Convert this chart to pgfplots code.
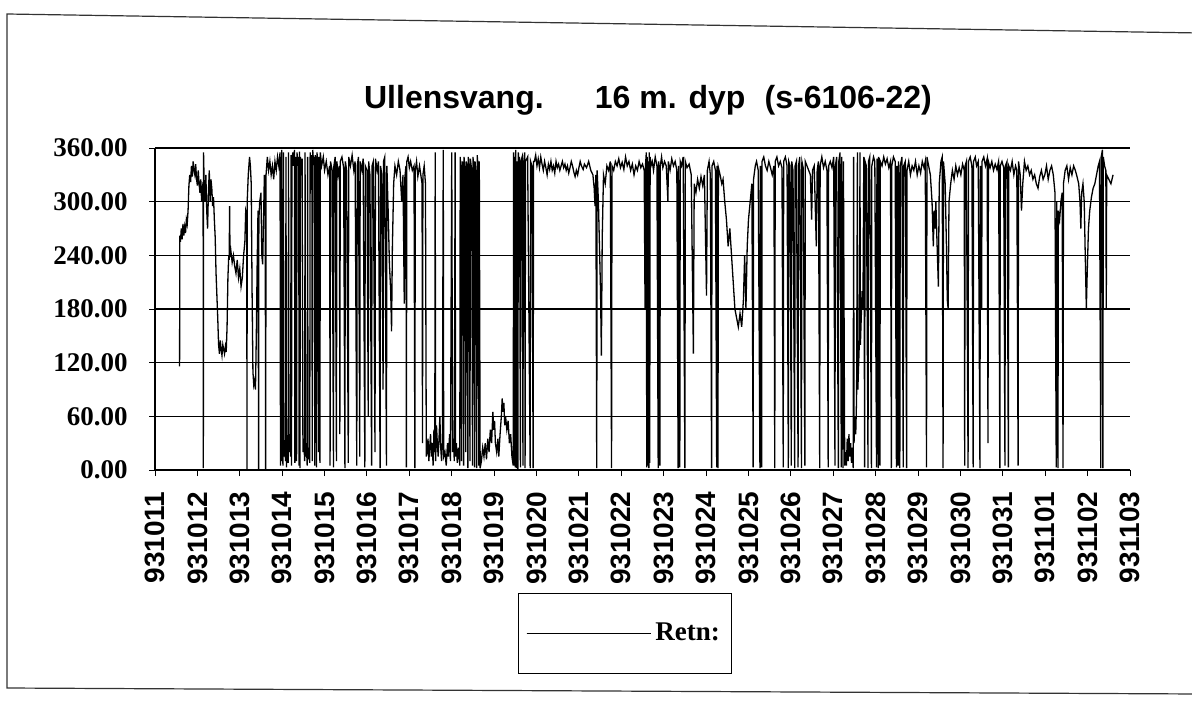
\documentclass[border=0pt]{standalone}
\usepackage{fontspec}
\setmainfont{Liberation Serif}
\newfontfamily\sansf{Liberation Sans}
\usepackage{pgfplots}
\pgfplotsset{compat=1.18}

% current direction, 16 m depth, one point per reading (x = days after 931011)
\begin{document}
\begin{tikzpicture}[x=1pt,y=1pt]
\useasboundingbox (0,0) rectangle (596,351.5);
% scanned page frame
\draw[line width=0.6pt,black!80] (600,335) -- (3.5,344.5) -- (3.5,7.5) -- (600,4.5);
\node[font=\sansf\fontsize{16}{16}\selectfont\bfseries] at (324,301.5)
  {Ullensvang.\hspace{1.6em}16 m. dyp\hspace{0.6em}(s-6106-22)};
\begin{axis}[
    at={(77.5pt,116.5pt)}, anchor=south west,
    scale only axis,
    width=487.5pt, height=161pt,
    xmin=0, xmax=23, ymin=0, ymax=360,
    axis x line*=bottom, axis y line*=left,
    axis line style={line width=0.6pt, -},
    ymajorgrids, major grid style={black, line width=0.6pt},
    ytick={0,60,...,360},
    xtick={0,1,...,23},
    xticklabels={931011,931012,931013,931014,931015,931016,931017,931018,
      931019,931020,931021,931022,931023,931024,931025,931026,931027,931028,
      931029,931030,931031,931101,931102,931103},
    tick align=outside, major tick length=3pt,
    tick style={black, line width=0.5pt},
    /pgf/number format/assume math mode=true,
    yticklabel style={/pgf/number format/.cd, fixed, fixed zerofill, precision=2,
      /tikz/.cd, font=\fontsize{13.5}{13.5}\selectfont\bfseries, inner sep=0pt, xshift=-10.5pt},
    xticklabel style={rotate=90, anchor=east, inner sep=0pt, xshift=-7.5pt,
      font=\sansf\fontsize{14}{14}\selectfont\bfseries},
    legend style={at={(0.482,-0.508)}, anchor=center, draw=black, line width=0.5pt,
      inner xsep=4pt, inner ysep=13pt,
      font=\fontsize{13.5}{13.5}\selectfont\bfseries},
    legend image code/.code={\draw[#1] (0pt,0pt) -- (57pt,0pt); \path (0pt,0pt) -- (62pt,0pt);},
    clip=false,
]
\addplot[black, line width=0.65pt] coordinates {
(0.58,116) (0.585,262) (0.60,255) (0.62,270) (0.64,258) (0.66,275) (0.68,262) (0.70,272)
(0.72,265) (0.74,280) (0.76,275) (0.78,290) (0.80,318) (0.82,330) (0.84,322) (0.86,340)
(0.88,328) (0.90,345) (0.92,335) (0.94,330) (0.96,342) (0.98,325) (1.00,318) (1.02,335)
(1.04,320) (1.06,310) (1.08,325) (1.10,300) (1.12,315) (1.135,310) (1.14,2) (1.145,355)
(1.16,320) (1.18,300) (1.20,330) (1.22,290) (1.24,270) (1.26,310) (1.28,335) (1.30,300)
(1.32,325) (1.34,315) (1.36,295) (1.38,305) (1.40,280) (1.42,260) (1.44,220) (1.46,195)
(1.48,170) (1.50,140) (1.52,130) (1.54,145) (1.56,135) (1.58,128) (1.60,140) (1.62,135)
(1.64,130) (1.66,138) (1.68,132) (1.70,160) (1.72,215) (1.74,240) (1.75,235) (1.76,295)
(1.77,238) (1.79,245) (1.82,232) (1.85,240) (1.88,228) (1.91,220) (1.94,235) (1.97,215)
(2.00,225) (2.03,205) (2.06,215) (2.09,240) (2.12,255) (2.14,290) (2.165,285) (2.17,0)
(2.175,300) (2.20,330) (2.23,350) (2.25,340) (2.27,320) (2.29,200) (2.31,110) (2.33,95)
(2.35,100) (2.37,90) (2.39,150) (2.41,230) (2.43,290) (2.445,0) (2.45,280) (2.47,300)
(2.50,310) (2.52,240) (2.54,230) (2.56,280) (2.58,330) (2.60,300) (2.61,0) (2.62,330)
(2.65,350) (2.68,335) (2.71,345) (2.74,330) (2.77,340) (2.80,325) (2.83,345) (2.86,335)
(2.89,350) (2.92,340)
(2.95,355) (2.96,5) (2.97,350) (2.98,10) (2.99,358) (3.00,20) (3.02,5) (3.03,355)
(3.04,15) (3.06,30) (3.08,10) (3.09,350) (3.10,3) (3.12,25) (3.14,8) (3.15,355)
(3.16,20) (3.18,40) (3.20,15) (3.21,352) (3.22,5) (3.23,345) (3.25,355) (3.27,340)
(3.29,358) (3.30,8) (3.31,350) (3.33,345) (3.34,10) (3.35,355) (3.37,340) (3.39,350)
(3.40,5) (3.41,356) (3.42,2) (3.43,350) (3.45,335) (3.47,348) (3.49,20) (3.51,35)
(3.53,10) (3.54,355) (3.55,15) (3.57,30) (3.59,5) (3.60,350) (3.61,12) (3.63,25)
(3.65,8) (3.66,355) (3.68,340) (3.70,352) (3.71,10) (3.72,358) (3.74,345) (3.76,350)
(3.77,5) (3.78,352) (3.80,340) (3.81,3) (3.82,355) (3.84,345) (3.86,20) (3.87,350)
(3.89,8) (3.90,355)
(3.93,340) (3.97,350) (4.00,335) (4.04,345) (4.08,330) (4.12,340) (4.13,5) (4.14,345)
(4.18,335) (4.21,3) (4.22,340) (4.25,350) (4.28,10) (4.29,345) (4.32,330) (4.35,340)
(4.36,40) (4.37,345) (4.41,350) (4.45,338) (4.48,2) (4.49,345) (4.52,335) (4.56,8)
(4.57,350) (4.61,340) (4.65,352) (4.69,335) (4.72,345) (4.76,5) (4.77,340) (4.80,350)
(4.83,15) (4.84,345) (4.88,335) (4.91,348) (4.95,3) (4.96,340) (5.00,335) (5.03,60)
(5.04,345) (5.07,330) (5.11,5) (5.12,340) (5.15,345) (5.19,20) (5.20,348) (5.24,335)
(5.27,345) (5.31,2) (5.32,340) (5.35,330) (5.38,90) (5.39,345) (5.42,350) (5.46,5)
(5.47,340) (5.50,290) (5.53,230) (5.56,200) (5.58,155) (5.60,250) (5.63,320)
(5.66,340) (5.70,330) (5.74,345) (5.78,335) (5.82,300) (5.85,330) (5.88,186) (5.89,325)
(5.92,340) (5.93,3) (5.94,345) (5.97,350) (6.00,338) (6.03,345) (6.07,335) (6.11,340)
(6.13,2) (6.14,335) (6.17,345) (6.20,328) (6.24,340) (6.27,330) (6.30,320) (6.31,30)
(6.32,330) (6.35,340) (6.38,320) (6.40,15)
(6.42,20) (6.44,35) (6.46,10) (6.48,25) (6.50,40) (6.52,15) (6.54,30) (6.56,5)
(6.58,45) (6.60,20) (6.61,355) (6.62,10) (6.64,50) (6.66,30) (6.68,15) (6.70,35)
(6.72,60) (6.74,25) (6.76,10) (6.78,30) (6.80,358) (6.81,15) (6.84,20) (6.87,5)
(6.90,30) (6.92,15) (6.95,40) (6.97,10) (7.00,355)
(7.02,20) (7.04,35) (7.06,10) (7.08,355) (7.09,15) (7.11,30) (7.13,8) (7.16,25)
(7.19,5) (7.20,350) (7.21,340) (7.23,10) (7.25,345) (7.27,330) (7.28,5) (7.29,350)
(7.31,335) (7.33,20) (7.34,345) (7.36,340) (7.38,2) (7.39,350) (7.41,330) (7.43,10)
(7.44,348) (7.47,335) (7.49,5) (7.50,350) (7.52,340) (7.54,3) (7.55,345) (7.57,330)
(7.59,2) (7.60,352) (7.62,340) (7.64,5) (7.65,345) (7.67,2)
(7.70,10) (7.73,25) (7.76,15) (7.79,30) (7.82,12) (7.85,35) (7.88,20) (7.91,45)
(7.94,30) (7.97,65) (7.99,45) (8.01,55) (8.03,30) (8.06,20) (8.09,35) (8.11,15)
(8.14,40) (8.17,60) (8.19,80) (8.21,65) (8.23,75) (8.25,50) (8.27,60) (8.30,45)
(8.33,55) (8.36,30) (8.39,40) (8.42,15) (8.45,5) (8.46,355) (8.47,5) (8.49,350)
(8.50,3) (8.51,358) (8.53,2) (8.54,345) (8.56,0) (8.57,355) (8.59,340) (8.60,350)
(8.62,3) (8.63,345) (8.66,350) (8.68,5) (8.69,340) (8.72,355) (8.73,2) (8.74,345)
(8.79,350) (8.85,2) (8.86,345) (8.89,340) (8.92,2) (8.93,345)
(8.95,345) (8.98,352) (9.01,340) (9.04,348) (9.07,338) (9.10,350) (9.13,342) (9.16,335)
(9.19,345) (9.22,338) (9.25,330) (9.28,342) (9.31,336) (9.34,345) (9.37,335) (9.40,340)
(9.43,332) (9.46,345) (9.49,338) (9.52,342) (9.55,335) (9.58,340) (9.61,345) (9.64,338)
(9.67,342) (9.70,335) (9.73,340) (9.76,332) (9.79,338) (9.82,345) (9.85,340) (9.88,333)
(9.91,328) (9.94,335) (9.97,330) (10.00,338) (10.03,345) (10.06,340) (10.10,336) (10.13,342)
(10.18,338) (10.23,345) (10.28,335) (10.33,330) (10.36,315) (10.38,295) (10.40,330) (10.42,2)
(10.43,335) (10.46,300) (10.49,240) (10.51,200) (10.53,128) (10.55,260) (10.58,330) (10.62,320)
(10.66,340) (10.70,335) (10.74,345) (10.77,2) (10.78,340) (10.82,335) (10.86,345) (10.90,340)
(10.94,348) (10.98,338) (11.02,344) (11.06,336) (11.10,350) (11.14,340) (11.18,345) (11.22,335)
(11.26,342) (11.30,330) (11.34,340) (11.38,335) (11.42,345) (11.46,338) (11.50,342) (11.54,335)
(11.56,180) (11.57,340)
(11.59,355) (11.60,3) (11.61,350) (11.62,5) (11.63,345) (11.65,2) (11.66,355) (11.67,8)
(11.68,350) (11.70,340) (11.73,345) (11.76,335) (11.80,350) (11.84,340) (11.87,2) (11.88,345)
(11.91,5) (11.92,340) (11.95,350) (11.98,338) (12.02,345) (12.06,340) (12.10,300) (12.11,345)
(12.15,335) (12.19,348) (12.23,340) (12.27,345) (12.31,335) (12.34,2) (12.35,340) (12.38,3)
(12.39,345) (12.42,340) (12.46,350) (12.50,2) (12.51,345) (12.55,338) (12.60,342) (12.65,330)
(12.70,130) (12.72,320) (12.76,310) (12.80,325) (12.84,315) (12.88,328) (12.92,318) (12.96,330)
(13.01,195) (13.03,335) (13.07,345) (13.10,330) (13.13,2) (13.14,340) (13.18,345) (13.22,335)
(13.25,3) (13.26,340) (13.28,2) (13.29,338) (13.33,330) (13.37,320) (13.40,325) (13.44,300)
(13.48,280) (13.52,250) (13.56,270) (13.60,240) (13.64,210) (13.68,180) (13.72,170) (13.76,160)
(13.80,175) (13.84,160) (13.88,190) (13.91,240) (13.94,180) (13.97,250) (14.00,280) (14.04,300)
(14.08,320) (14.11,3) (14.12,325) (14.16,340) (14.19,345) (14.23,335) (14.27,2) (14.28,340)
(14.31,3) (14.32,345) (14.36,350) (14.40,340) (14.44,335) (14.48,345) (14.52,338) (14.56,330)
(14.60,340) (14.62,2) (14.63,345) (14.67,350) (14.71,340) (14.75,345) (14.79,338) (14.82,3)
(14.83,345) (14.87,350) (14.91,340) (14.94,2) (14.95,345) (14.98,340) (15.01,5) (15.02,345)
(15.05,335) (15.09,2) (15.10,340) (15.13,345) (15.17,3) (15.18,340) (15.21,350) (15.25,2)
(15.26,345) (15.29,338) (15.33,5) (15.34,345) (15.38,340) (15.42,335) (15.46,330) (15.49,280)
(15.51,335)
(15.55,340) (15.60,250) (15.62,335) (15.65,345) (15.68,2) (15.69,340) (15.73,350) (15.77,338)
(15.81,345) (15.85,335) (15.88,3) (15.89,340) (15.93,345) (15.97,338) (16.01,350) (16.04,5)
(16.05,340) (16.08,350) (16.12,2) (16.13,345) (16.16,355) (16.19,3) (16.20,350) (16.23,2)
(16.24,345) (16.27,5) (16.29,20) (16.31,5) (16.33,35) (16.35,10) (16.37,40) (16.39,15)
(16.41,30) (16.43,8) (16.45,25) (16.47,2) (16.48,350) (16.49,30) (16.51,60) (16.53,40)
(16.55,80) (16.57,355) (16.58,90) (16.60,120) (16.62,150) (16.63,355) (16.64,140) (16.66,170)
(16.68,200) (16.70,180) (16.72,350) (16.74,3) (16.75,345) (16.78,340) (16.82,2) (16.83,345)
(16.86,350) (16.90,2) (16.91,340) (16.95,350) (16.98,345) (17.02,3) (17.03,348) (17.06,2)
(17.07,350) (17.10,5) (17.11,345) (17.15,340) (17.19,350) (17.23,342) (17.27,348) (17.31,338)
(17.35,345) (17.37,2) (17.38,340) (17.42,350) (17.46,345) (17.49,3) (17.50,340) (17.53,5)
(17.54,345) (17.57,2) (17.58,340) (17.62,350) (17.65,3) (17.66,340) (17.70,345) (17.73,2)
(17.74,335) (17.78,345) (17.82,330) (17.86,340) (17.90,335) (17.94,345) (17.98,330) (18.02,340)
(18.06,332) (18.10,345) (18.14,338) (18.17,345) (18.20,3) (18.21,350) (18.25,340) (18.29,330)
(18.33,300) (18.36,250) (18.38,290) (18.40,270) (18.42,300) (18.45,250) (18.48,205) (18.50,320)
(18.54,345) (18.57,350) (18.59,2) (18.60,345) (18.64,320) (18.67,250) (18.69,190) (18.71,180)
(18.73,300) (18.77,320) (18.81,335) (18.85,325) (18.89,340) (18.93,330) (18.97,338) (19.01,330)
(19.05,342) (19.09,335) (19.10,5) (19.11,340) (19.14,345) (19.18,2) (19.19,345) (19.23,350)
(19.27,340) (19.30,3) (19.31,345) (19.35,350)
(19.38,340) (19.42,345) (19.46,2) (19.47,340) (19.50,180) (19.51,345) (19.55,350) (19.59,340)
(19.63,348) (19.65,30) (19.66,345) (19.70,338) (19.74,345) (19.78,335) (19.82,342) (19.86,336)
(19.90,345) (19.93,2) (19.94,340) (19.98,345) (20.02,338) (20.05,5) (20.06,340) (20.10,345)
(20.13,3) (20.14,340) (20.18,335) (20.22,345) (20.26,330) (20.30,340) (20.33,335) (20.36,5)
(20.37,345) (20.41,330) (20.44,290) (20.47,320) (20.51,345) (20.55,335) (20.59,340) (20.63,330)
(20.67,335) (20.71,325) (20.75,330) (20.79,320) (20.83,315) (20.87,328) (20.91,335) (20.95,325)
(20.99,330) (21.03,340) (21.07,325) (21.11,335) (21.15,340) (21.19,330) (21.23,310) (21.26,3)
(21.27,300) (21.30,2) (21.31,290) (21.34,280) (21.37,300) (21.40,310) (21.42,2) (21.43,320)
(21.47,335) (21.51,340) (21.55,325) (21.59,338) (21.63,330) (21.67,340) (21.71,335) (21.75,328)
(21.79,320) (21.82,300) (21.84,270) (21.86,310) (21.89,320) (21.92,300) (21.94,250) (21.97,180)
(21.99,220) (22.02,270) (22.05,290) (22.09,305) (22.13,315) (22.17,320) (22.21,330) (22.25,340)
(22.28,345) (22.31,2) (22.32,350) (22.35,358) (22.36,2) (22.37,350) (22.40,340) (22.43,335)
(22.44,180) (22.45,330) (22.50,325) (22.55,320) (22.60,330)
};
\legend{Retn:}
\end{axis}
\end{tikzpicture}
\end{document}
